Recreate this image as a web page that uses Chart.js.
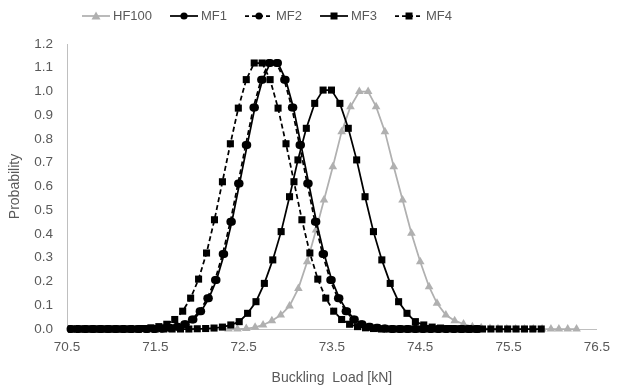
<!DOCTYPE html>
<html><head><meta charset="utf-8">
<script src="https://cdn.jsdelivr.net/npm/chart.js@4.4.0/dist/chart.umd.min.js"></script>
<style>html,body{margin:0;padding:0;background:#fff}#wrap{width:620px;height:390px}</style>
</head><body><div id="wrap"><canvas id="c" width="620" height="390"></canvas></div>
<script>
const seriesNames = ['HF100', 'MF1', 'MF2', 'MF3', 'MF4'];
const xTicks = [70.5, 76.5, 1];
const yTicks = [0, 1.2, 0.1];

const hfX = [72.33,72.43,72.53,72.63,72.72,72.82,72.92,73.02,73.12,73.22,73.32,73.41,73.51,73.61,73.71,73.81,73.91,74.00,74.10,74.20,74.30,74.40,74.50,74.60,74.69,74.79,74.89,74.99,75.09,75.19,75.29,75.38,75.48,75.58,75.68,75.78,75.88,75.98,76.07,76.17,76.27];
const hfY = [0,0,0.002,0.007,0.017,0.035,0.059,0.097,0.171,0.283,0.417,0.543,0.683,0.831,0.936,1.0,1.0,0.936,0.831,0.683,0.543,0.403,0.283,0.178,0.108,0.059,0.035,0.021,0.010,0.005,0.002,0.001,0,0,0,0,0,0,0,0,0];

const mf1X = [70.540,70.627,70.714,70.801,70.888,70.975,71.062,71.149,71.236,71.323,71.410,71.497,71.584,71.671,71.758,71.845,71.932,72.019,72.106,72.193,72.280,72.367,72.454,72.541,72.628,72.715,72.802,72.889,72.976,73.063,73.150,73.237,73.324,73.411,73.498,73.585,73.672,73.759,73.846,73.933,74.020,74.107,74.194,74.281,74.368,74.455,74.542,74.629,74.716,74.803,74.890,74.977,75.064,75.151];
const mf1Y = [0,0,0,0,0,0,0,0,0,0,0,0,0.002,0.005,0.01,0.02,0.04,0.075,0.129,0.206,0.316,0.452,0.613,0.775,0.933,1.05,1.12,1.12,1.05,0.933,0.775,0.613,0.452,0.316,0.206,0.129,0.075,0.04,0.02,0.01,0.005,0.002,0,0,0,0,0,0,0,0,0,0,0,0];

const mf2X = [70.610,70.697,70.784,70.871,70.958,71.045,71.132,71.219,71.306,71.393,71.480,71.567,71.654,71.741,71.828,71.915,72.002,72.089,72.176,72.263,72.350,72.437,72.524,72.611,72.698,72.785,72.872,72.959,73.046,73.133,73.220,73.307,73.394,73.481,73.568,73.655,73.742,73.829,73.916,74.003,74.090,74.177,74.264,74.351,74.438,74.525,74.612,74.699,74.786,74.873,74.960,75.047,75.134];
const mf2Y = [0,0,0,0,0,0,0,0,0,0,0,0.002,0.005,0.01,0.02,0.04,0.075,0.129,0.206,0.316,0.452,0.613,0.775,0.933,1.05,1.12,1.12,1.05,0.933,0.775,0.613,0.452,0.316,0.206,0.129,0.075,0.04,0.02,0.01,0.005,0.002,0,0,0,0,0,0,0,0,0,0,0,0];

const mf3X = [70.550,70.645,70.740,70.835,70.930,71.025,71.120,71.215,71.310,71.405,71.500,71.595,71.690,71.785,71.880,71.975,72.070,72.165,72.260,72.355,72.450,72.545,72.640,72.735,72.830,72.925,73.020,73.115,73.210,73.305,73.400,73.495,73.590,73.685,73.780,73.875,73.970,74.065,74.160,74.255,74.350,74.445,74.540,74.635,74.730,74.825,74.920,75.015,75.110,75.205,75.300,75.395,75.490,75.585,75.680,75.775,75.870];
const mf3Y = [0,0,0,0,0,0,0,0,0,0,0,0,0,0,0,0.001,0.002,0.004,0.008,0.017,0.031,0.066,0.115,0.192,0.291,0.41,0.557,0.712,0.845,0.95,1.006,1.006,0.95,0.845,0.712,0.557,0.41,0.291,0.192,0.115,0.066,0.031,0.017,0.008,0.004,0.002,0.001,0,0,0,0,0,0,0,0,0,0];

const mf4X = [70.55,70.64,70.73,70.82,70.91,71.00,71.09,71.18,71.27,71.36,71.45,71.54,71.63,71.72,71.81,71.90,71.99,72.08,72.17,72.26,72.35,72.44,72.53,72.62,72.71,72.80,72.89,72.98,73.07,73.16,73.25,73.34,73.43,73.52,73.61,73.70,73.79,73.88,73.97,74.06,74.15,74.24,74.33,74.42,74.51,74.60,74.69,74.78,74.87,74.96,75.05,75.14];
const mf4Y = [0,0,0,0,0,0,0,0,0,0.002,0.005,0.01,0.02,0.04,0.075,0.13,0.21,0.32,0.46,0.62,0.78,0.93,1.05,1.12,1.12,1.05,0.93,0.78,0.62,0.46,0.32,0.21,0.13,0.075,0.04,0.02,0.01,0.005,0.002,0,0,0,0,0,0,0,0,0,0,0,0,0];

const GRAY = '#b0b0b0', BLACK = '#000000', TEXT = '#595959';
const FONT = "'Liberation Sans', Arial, sans-serif";
const pts = (xs, ys) => xs.map((x, i) => ({x: x, y: ys[i]}));

const styles = [
  {color: GRAY, dash: [], shape: 'triangle', r: 5, ls: false},
  {color: BLACK, dash: [], shape: 'circle', r: 4, ls: false},
  {color: BLACK, dash: [5, 3], shape: 'circle', r: 4, ls: true},
  {color: BLACK, dash: [], shape: 'rect', r: 5, ls: false},
  {color: BLACK, dash: [5, 3], shape: 'rect', r: 5, ls: true}
];
const xsAll = [hfX, mf1X, mf2X, mf3X, mf4X];
const ysAll = [hfY, mf1Y, mf2Y, mf3Y, mf4Y];

const datasets = seriesNames.map((name, i) => ({
  label: name,
  data: pts(xsAll[i], ysAll[i]),
  showLine: true,
  borderColor: styles[i].color,
  backgroundColor: styles[i].color,
  borderWidth: 1.75,
  borderDash: styles[i].dash,
  pointStyle: styles[i].shape,
  pointRadius: styles[i].r,
  pointBorderWidth: 0,
  pointBackgroundColor: styles[i].color,
  pointBorderColor: styles[i].color,
  tension: 0,
  clip: false,
  order: 5 - i
}));

// Legend drawn as a Chart.js plugin: line + marker, then the series name
const lineLegend = {
  id: 'lineLegend',
  afterDraw(chart) {
    const ctx = chart.ctx;
    const y = 16;
    let x = 82;
    ctx.save();
    ctx.font = '13px ' + FONT;
    ctx.textBaseline = 'middle';
    ctx.textAlign = 'left';
    chart.data.datasets.forEach((ds, i) => {
      const st = styles[i];
      ctx.strokeStyle = st.color; ctx.lineWidth = 1.75;
      ctx.setLineDash(st.ls ? [4, 3] : []);
      ctx.beginPath(); ctx.moveTo(x, y); ctx.lineTo(x + 28, y); ctx.stroke();
      ctx.setLineDash([]);
      ctx.fillStyle = st.color;
      ctx.beginPath();
      const cx = x + 14;
      if (st.shape === 'triangle') { ctx.moveTo(cx, y - 4.5); ctx.lineTo(cx + 4.5, y + 3.5); ctx.lineTo(cx - 4.5, y + 3.5); ctx.closePath(); }
      else if (st.shape === 'circle') { ctx.arc(cx, y, 3.6, 0, Math.PI * 2); }
      else { ctx.rect(cx - 3.5, y - 3.5, 7, 7); }
      ctx.fill();
      ctx.fillStyle = TEXT;
      ctx.fillText(ds.label, x + 31, y + 0.5);
      x += 31 + ctx.measureText(ds.label).width + 18;
    });
    ctx.restore();
  }
};

Chart.defaults.font.family = FONT;
Chart.defaults.color = TEXT;

new Chart(document.getElementById('c'), {
  type: 'scatter',
  data: {datasets: datasets},
  plugins: [lineLegend],
  options: {
    responsive: false,
    animation: false,
    layout: {padding: {left: 0, right: 15, top: 44, bottom: 0}},
    plugins: {
      tooltip: {enabled: false},
      legend: {display: false}
    },
    scales: {
      x: {
        type: 'linear',
        min: xTicks[0], max: xTicks[1],
        grid: {display: false, drawTicks: false},
        border: {display: true, color: '#bfbfbf', width: 1},
        ticks: {stepSize: xTicks[2], padding: 10, font: {size: 13.5}, color: TEXT,
                callback: v => Number(v).toFixed(1)},
        title: {display: true, text: 'Buckling  Load [kN]', font: {size: 14}, color: TEXT, padding: {top: 16, bottom: 3}},
        afterFit: s => { s.height = 61; }
      },
      y: {
        type: 'linear',
        min: yTicks[0], max: yTicks[1],
        grid: {display: false, drawTicks: false},
        border: {display: true, color: '#bfbfbf', width: 1},
        ticks: {stepSize: yTicks[2], padding: 14, font: {size: 13.5}, color: TEXT,
                callback: v => Number(v).toFixed(1)},
        title: {display: true, text: 'Probability', font: {size: 14}, color: TEXT, padding: {top: 7, bottom: 10}},
        afterFit: s => { s.width = 67; }
      }
    }
  }
});
</script>
</body></html>
